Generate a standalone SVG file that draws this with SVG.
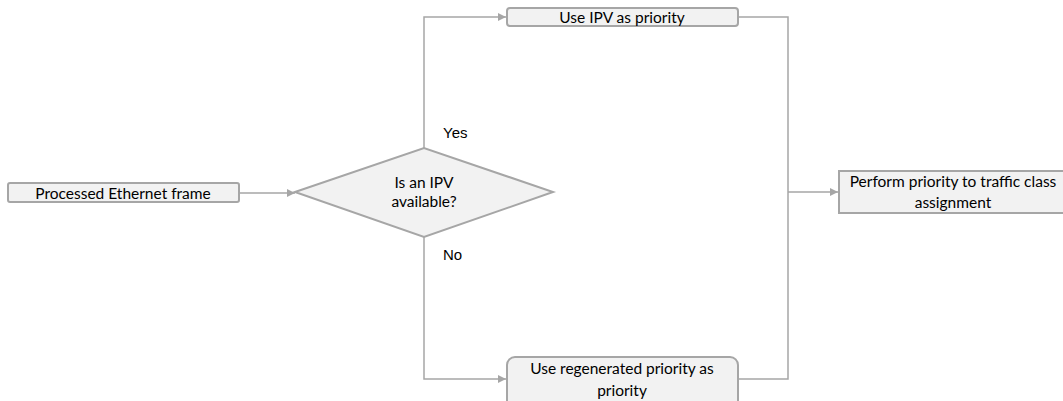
<svg xmlns="http://www.w3.org/2000/svg" width="1063" height="401" viewBox="0 0 1063 401">
  <defs>
    <style>
      .box { fill: #f2f2f2; stroke: #a6a6a6; stroke-width: 2; }
      .wire { fill: none; stroke: #a6a6a6; stroke-width: 1.5; }
      .lbl { font-family: Lato, "Open Sans", "Liberation Sans", sans-serif; font-size: 15.5px; fill: #000; text-anchor: middle; dominant-baseline: central; }
      .br { font-family: "Liberation Sans", Arial, sans-serif; font-size: 15px; fill: #000; dominant-baseline: central; }
    </style>
    <marker id="arr" viewBox="0 0 10 10" refX="10" refY="5" markerWidth="8" markerHeight="8" markerUnits="userSpaceOnUse" orient="auto">
      <path d="M0,0 L10,5 L0,10 z" fill="#a6a6a6"/>
    </marker>
  </defs>

  <rect width="1063" height="401" fill="#ffffff"/>

  <!-- connectors -->
  <g id="connectors">
    <path class="wire" d="M239,193 H295" marker-end="url(#arr)"/>
    <path class="wire" d="M424,148 V17 H506" marker-end="url(#arr)"/>
    <path class="wire" d="M424,237 V379 H506" marker-end="url(#arr)"/>
    <path class="wire" d="M738,17 H788 V379 H738"/>
    <path class="wire" d="M788,192 H838" marker-end="url(#arr)"/>
  </g>

  <g id="start">
    <rect class="box" x="8" y="183" width="231" height="19" rx="2"/>
    <text class="lbl" x="123" y="193">Processed Ethernet frame</text>
  </g>

  <g id="decision">
    <polygon class="box" points="295,192 424,148 553,192 424,237"/>
    <text class="lbl" x="424" y="182">Is an IPV</text>
    <text class="lbl" x="424" y="201">available?</text>
  </g>

  <g id="branch-labels">
    <text class="br" x="443" y="132">Yes</text>
    <text class="br" x="443" y="254">No</text>
  </g>

  <g id="use-ipv">
    <rect class="box" x="507" y="8" width="231" height="18" rx="3"/>
    <text class="lbl" x="622" y="17">Use IPV as priority</text>
  </g>

  <g id="use-regenerated">
    <rect class="box" x="507" y="357" width="231" height="60" rx="8"/>
    <text class="lbl" x="622" y="368">Use regenerated priority as</text>
    <text class="lbl" x="622" y="390">priority</text>
  </g>

  <g id="traffic-class">
    <rect class="box" x="839" y="171" width="240" height="42"/>
    <text class="lbl" x="953" y="181">Perform priority to traffic class</text>
    <text class="lbl" x="953" y="202">assignment</text>
  </g>
</svg>
